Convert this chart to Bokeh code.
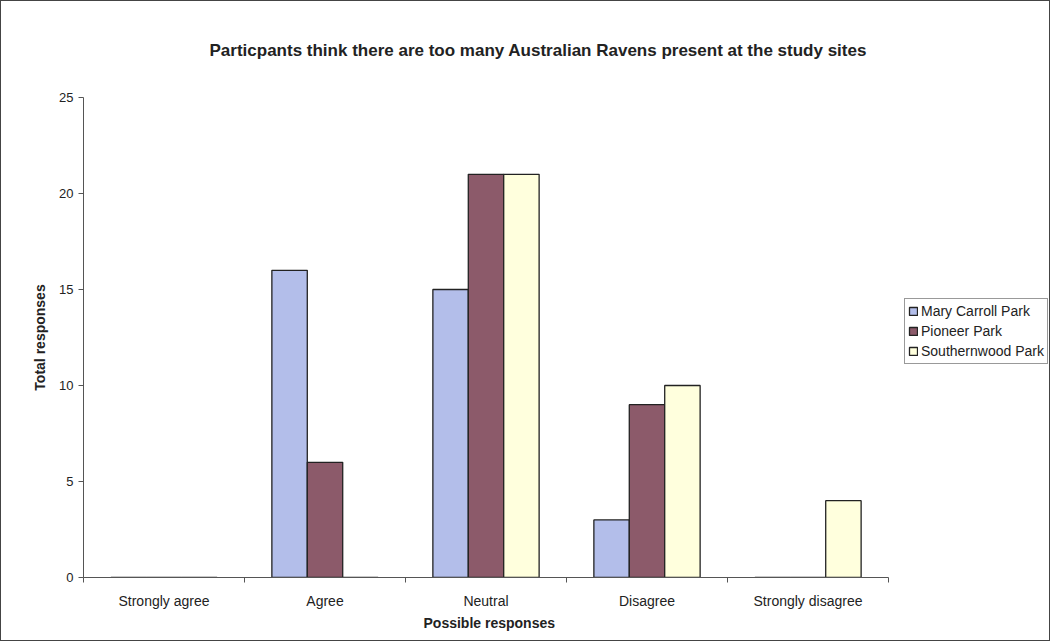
from bokeh.plotting import figure
from bokeh.models import (ColumnDataSource, FactorRange, Range1d, LinearAxis, CategoricalAxis,
                          FixedTicker, Legend, LegendItem, Title)
from bokeh.transform import dodge
from bokeh.embed import file_html
from bokeh.resources import INLINE

categories = ["Strongly agree", "Agree", "Neutral", "Disagree", "Strongly disagree"]
mary_carroll = [0, 16, 15, 3, 0]
pioneer = [0, 6, 21, 9, 0]
southernwood = [0, 0, 21, 10, 4]
series_names = ["Mary Carroll Park", "Pioneer Park", "Southernwood Park"]
y_ticks = [0, 5, 10, 15, 20, 25]

colors = ["#B3BEEA", "#8C5A6A", "#FFFFDD"]
FONT = "Liberation Sans"

src = ColumnDataSource(dict(cat=categories, mcp=mary_carroll, pp=pioneer, sp=southernwood))

# an empty slot on the right of the category range holds the legend
p = figure(x_range=FactorRange(*(categories + [""])), y_range=Range1d(0, 25),
           frame_width=966, frame_height=480,
           x_axis_location=None, y_axis_location=None,
           output_backend="svg", toolbar_location=None,
           min_border_left=82, min_border_top=95, min_border_bottom=63,
           min_border_right=0)
p.outline_line_color = None
p.xgrid.visible = False
p.ygrid.visible = False
p.background_fill_color = "white"
p.border_fill_color = "white"
p.styles = {"border": "1px solid #444"}

t = Title(text="Particpants think there are too many Australian Ravens present at the study sites",
          text_font=FONT, text_font_size="17px", text_font_style="bold",
          align="left", text_color="#222", offset=126, standoff=75)
p.add_layout(t, "above")

# Y axis
yax = LinearAxis(ticker=FixedTicker(ticks=y_ticks), axis_label="Total responses")
yax.axis_label_text_font = FONT
yax.axis_label_text_font_size = "14px"
yax.axis_label_text_font_style = "bold"
yax.axis_label_text_color = "#222"
yax.axis_label_standoff = 8
yax.major_label_text_font = FONT
yax.major_label_text_font_size = "13px"
yax.major_label_text_color = "#222"
yax.major_tick_in = 0
yax.major_tick_out = 5
yax.minor_tick_line_color = None
yax.axis_line_color = "#555"
yax.major_tick_line_color = "#555"
p.add_layout(yax, "left")

# X tick-mark axis (ticks between categories)
n = len(categories)
bound_ax = LinearAxis(ticker=FixedTicker(ticks=list(range(n + 1))), bounds=(0, n))
bound_ax.major_label_text_font_size = "0px"
bound_ax.major_label_text_color = None
bound_ax.major_tick_in = 0
bound_ax.major_tick_out = 5
bound_ax.minor_tick_line_color = None
bound_ax.axis_line_color = "#555"
bound_ax.major_tick_line_color = "#555"
bound_ax.major_label_standoff = 0
p.add_layout(bound_ax, "below")

# X category labels
xax = CategoricalAxis()
xax.axis_line_color = None
xax.major_tick_line_color = None
xax.major_label_standoff = 4
xax.major_label_text_font = FONT
xax.major_label_text_font_size = "14px"
xax.major_label_text_color = "#222"
p.add_layout(xax, "below")

xlabel = Title(text="Possible responses", text_font=FONT, text_font_size="14px",
               text_font_style="bold", text_color="#222", align="left", offset=340, standoff=2)
p.add_layout(xlabel, "below")

w = 0.22
r1 = p.vbar(x=dodge("cat", -w, range=p.x_range), top="mcp", width=w, source=src,
            fill_color=colors[0], line_color="#222", line_width=1.3)
r2 = p.vbar(x=dodge("cat", 0, range=p.x_range), top="pp", width=w, source=src,
            fill_color=colors[1], line_color="#222", line_width=1.3)
r3 = p.vbar(x=dodge("cat", w, range=p.x_range), top="sp", width=w, source=src,
            fill_color=colors[2], line_color="#222", line_width=1.3)

legend = Legend(items=[LegendItem(label=series_names[0], renderers=[r1]),
                       LegendItem(label=series_names[1], renderers=[r2]),
                       LegendItem(label=series_names[2], renderers=[r3])],
                location=(821, 213))
legend.label_text_font = FONT
legend.label_text_font_size = "14px"
legend.label_text_color = "#222"
legend.glyph_width = 10
legend.glyph_height = 10
legend.label_standoff = 3
legend.label_width = 10
legend.spacing = 2
legend.padding = 3
legend.margin = 0
legend.label_height = 18
legend.border_line_color = "#333"
legend.border_line_width = 1
p.add_layout(legend, "center")

open("out.html", "w").write(file_html(p, INLINE))
